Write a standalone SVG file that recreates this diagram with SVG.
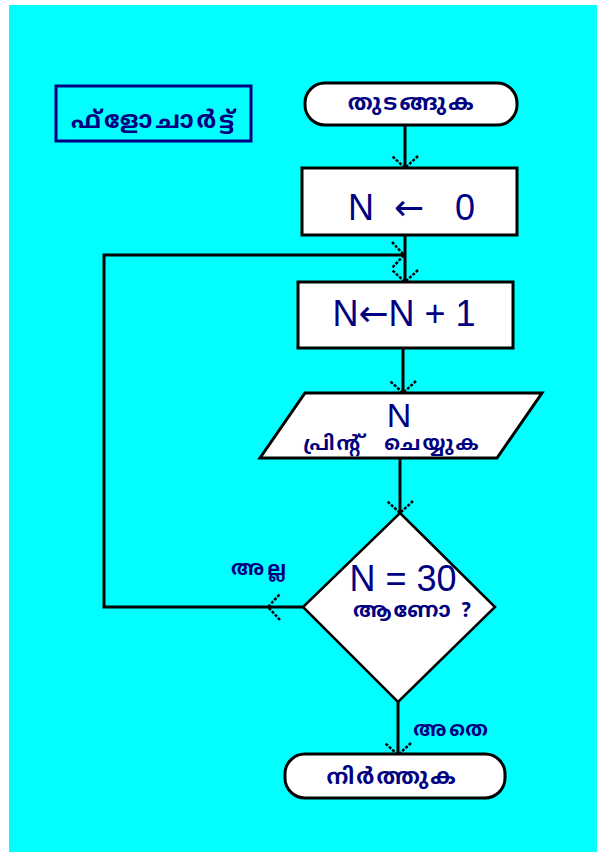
<svg xmlns="http://www.w3.org/2000/svg" width="597" height="852" viewBox="0 0 597 852">
<defs>
<style>
.bg{fill:#00ffff}
.shape{fill:#ffffff;stroke:#000000;stroke-width:3}
.dia{fill:#ffffff;stroke:#000000;stroke-width:2.5}
.conn{fill:none;stroke:#000000;stroke-width:3}
.lat{font-family:"Liberation Sans",Arial,sans-serif;fill:#000080;text-anchor:middle}
.arw{font-family:"DejaVu Sans",sans-serif}
.ml{font-family:"Noto Sans Malayalam","Noto Sans","DejaVu Sans",sans-serif;font-weight:bold;fill:#000080;text-anchor:middle}
.ah{fill:none;stroke:#000000;stroke-width:2.5;stroke-dasharray:3 1.5}
</style>
<marker id="arr" markerUnits="userSpaceOnUse" viewBox="0 0 14 28" markerWidth="14" markerHeight="28" refX="13" refY="14" orient="auto">
<path class="ah" d="M1,1 L13,14 L1,27"/>
</marker>
</defs>
<rect class="bg" x="9" y="5" width="588" height="847"/>

<g id="connectors">
<path class="conn" d="M405,125 V168" marker-end="url(#arr)"/>
<path class="conn" d="M405,235 V282" marker-end="url(#arr)"/>
<path class="conn" d="M403,348 V393" marker-end="url(#arr)"/>
<path class="conn" d="M400,458 V513" marker-end="url(#arr)"/>
<path class="conn" d="M303,607 H268" marker-end="url(#arr)"/>
<path class="conn" d="M268,607 H104 V255 H404" marker-end="url(#arr)"/>
<path class="conn" d="M398,702 V755" marker-end="url(#arr)"/>
</g>

<g id="title">
<rect x="56" y="86" width="195" height="55" fill="none" stroke="#000080" stroke-width="3"/>
<text class="ml" x="154" y="128" font-size="24" letter-spacing="3">ഫ്ളോചാർട്ട്</text>
</g>

<g id="start">
<rect class="shape" x="305" y="83" width="212" height="42" rx="20" ry="20"/>
<text class="ml" x="412" y="110" font-size="22" letter-spacing="2.5">തുടങ്ങുക</text>
</g>

<g id="init">
<rect class="shape" x="302" y="168" width="215" height="67"/>
<text class="lat" y="220" font-size="36"><tspan x="361">N</tspan><tspan class="arw" x="409">←</tspan><tspan x="465">0</tspan></text>
</g>

<g id="incr">
<rect class="shape" x="298" y="282" width="215" height="66"/>
<text class="lat" x="404" y="326" font-size="36">N<tspan class="arw">←</tspan>N + 1</text>
</g>

<g id="print">
<polygon class="shape" points="305,393 542,393 497,458 260,458"/>
<text class="lat" x="399" y="427" font-size="34">N</text>
<text class="ml" x="392" y="450" font-size="20" letter-spacing="2" word-spacing="14">പ്രിന്റ് ചെയ്യുക</text>
</g>

<g id="decision">
<polygon class="dia" points="400,513 495,607 398,702 303,607"/>
<text class="lat" x="403" y="591" font-size="36">N = 30</text>
<text class="ml" x="413" y="617" font-size="21" letter-spacing="2">ആണോ ?</text>
</g>

<g id="label-no">
<text class="ml" x="260" y="575" font-size="20" letter-spacing="3">അല്ല</text>
</g>
<g id="label-yes">
<text class="ml" x="452" y="736" font-size="20" letter-spacing="3">അതെ</text>
</g>

<g id="end">
<rect class="shape" x="285" y="754" width="220" height="44" rx="20" ry="20"/>
<text class="ml" x="392" y="784" font-size="22" letter-spacing="2">നിർത്തുക</text>
</g>
</svg>
